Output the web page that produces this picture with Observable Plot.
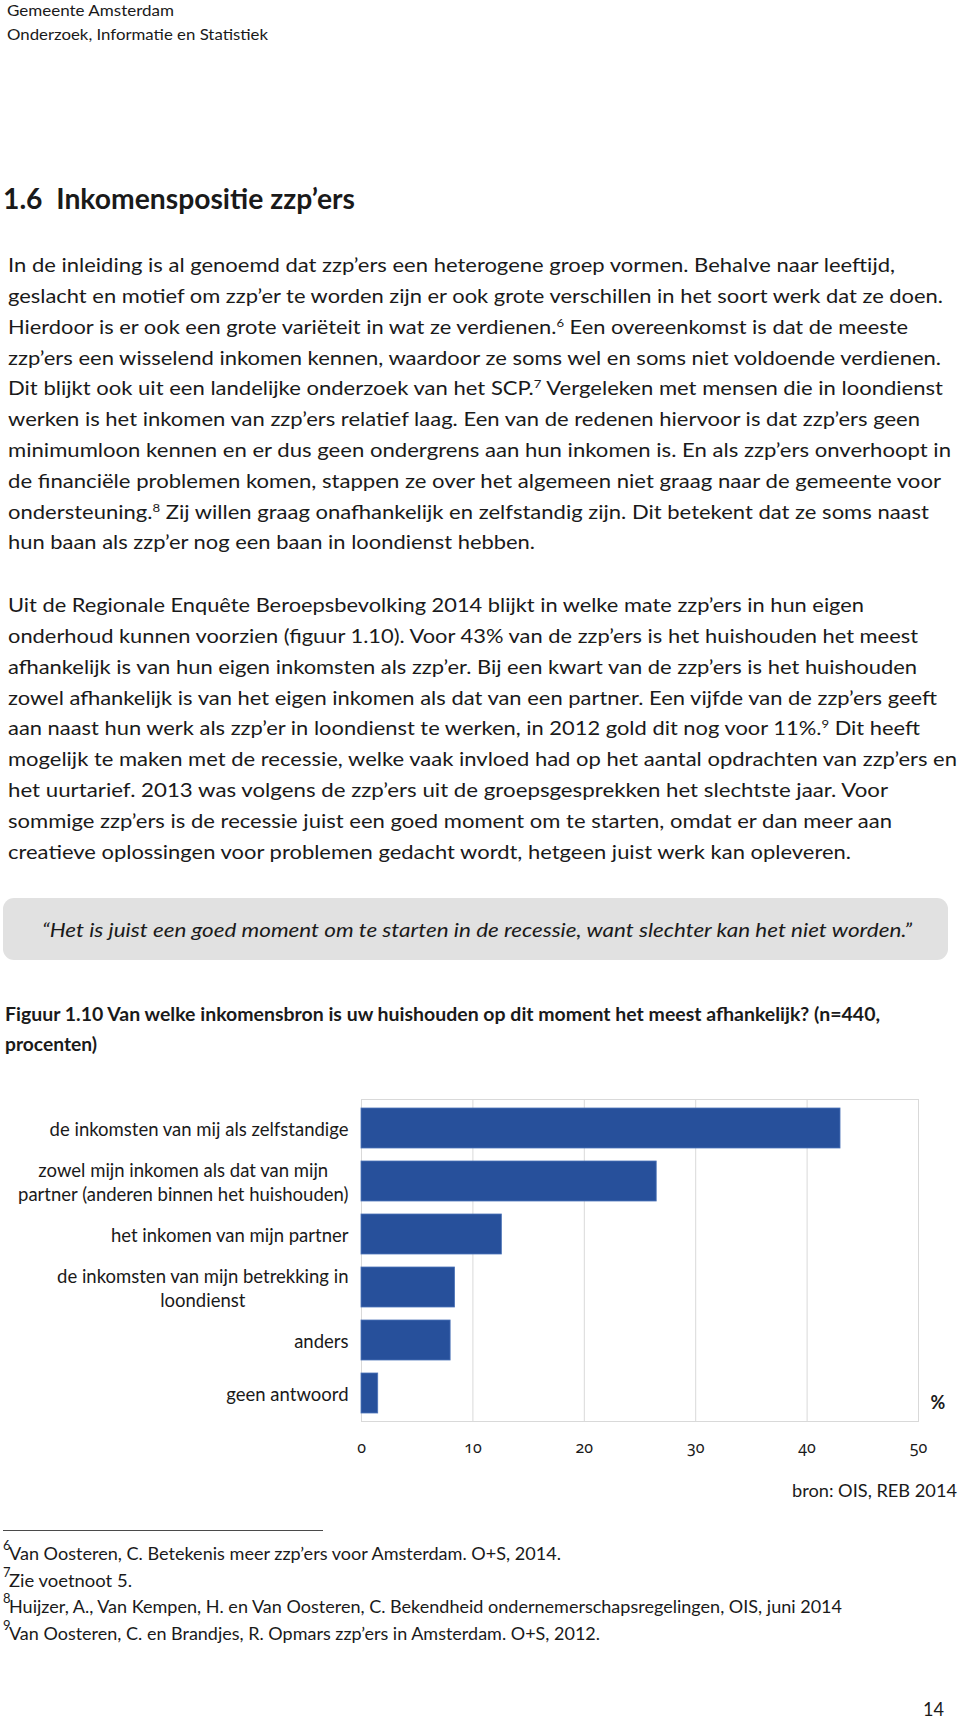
<!DOCTYPE html>
<html>
<head>
<meta charset="utf-8">
<script src="https://cdn.jsdelivr.net/npm/d3@7"></script>
<script src="https://cdn.jsdelivr.net/npm/@observablehq/plot@0.6"></script>
<style>
  html, body { margin: 0; padding: 0; background: #fff; }
  #page { position: relative; width: 960px; height: 1724px; overflow: hidden; font-family: Lato, "Open Sans", sans-serif; color: #1a1a1a; }
  .ln { position: absolute; white-space: nowrap; line-height: 1.2; transform-origin: 0 50%; }
  .ln sup { font-size: 0.6em; line-height: 0; vertical-align: 0.55em; }
  #quotebox { position: absolute; left: 3px; top: 898px; width: 945px; height: 62px; background: #e1e1e1; border-radius: 11px; }
  #rule { position: absolute; left: 3px; top: 1530px; width: 320px; height: 1px; background: #4a4a4a; }
  #chart { position: absolute; left: 0; top: 1080px; }
  #chart g[aria-label="x-axis tick label"] { font-feature-settings: "onum" 1; font-variant-numeric: oldstyle-nums; }
</style>
</head>
<body>
<div id="page">
  <div id="quotebox"></div>
  <div id="rule"></div>
  <div id="chart"></div>
</div>
<script>
// ---------- chart data ----------
const categories = [
  "de inkomsten van mij als zelfstandige",
  "zowel mijn inkomen als dat van mijn partner (anderen binnen het huishouden)",
  "het inkomen van mijn partner",
  "de inkomsten van mijn betrekking in loondienst",
  "anders",
  "geen antwoord"
];
const categoryLabels = [
  "de inkomsten van mij als zelfstandige",
  "zowel mijn inkomen als dat van mijn\npartner (anderen binnen het huishouden)",
  "het inkomen van mijn partner",
  "de inkomsten van mijn betrekking in\nloondienst",
  "anders",
  "geen antwoord"
];
const percentages = [43.0, 26.5, 12.6, 8.4, 8.0, 1.5];
const xTicks = [0, 10, 20, 30, 40, 50];
const unitLabel = "%";

// ---------- page text ----------
const headerLines = ["Gemeente Amsterdam", "Onderzoek, Informatie en Statistiek"];
const sectionTitle = "1.6\u00a0\u00a0Inkomenspositie zzp’ers";
const paragraph1 = [
  "In de inleiding is al genoemd dat zzp’ers een heterogene groep vormen. Behalve naar leeftijd,",
  "geslacht en motief om zzp’er te worden zijn er ook grote verschillen in het soort werk dat ze doen.",
  "Hierdoor is er ook een grote variëteit in wat ze verdienen.<sup>6</sup> Een overeenkomst is dat de meeste",
  "zzp’ers een wisselend inkomen kennen, waardoor ze soms wel en soms niet voldoende verdienen.",
  "Dit blijkt ook uit een landelijke onderzoek van het SCP.<sup>7</sup> Vergeleken met mensen die in loondienst",
  "werken is het inkomen van zzp’ers relatief laag. Een van de redenen hiervoor is dat zzp’ers geen",
  "minimumloon kennen en er dus geen ondergrens aan hun inkomen is. En als zzp’ers onverhoopt in",
  "de financiële problemen komen, stappen ze over het algemeen niet graag naar de gemeente voor",
  "ondersteuning.<sup>8</sup> Zij willen graag onafhankelijk en zelfstandig zijn. Dit betekent dat ze soms naast",
  "hun baan als zzp’er nog een baan in loondienst hebben."
];
const paragraph2 = [
  "Uit de Regionale Enquête Beroepsbevolking 2014 blijkt in welke mate zzp’ers in hun eigen",
  "onderhoud kunnen voorzien (figuur 1.10). Voor 43% van de zzp’ers is het huishouden het meest",
  "afhankelijk is van hun eigen inkomsten als zzp’er. Bij een kwart van de zzp’ers is het huishouden",
  "zowel afhankelijk is van het eigen inkomen als dat van een partner. Een vijfde van de zzp’ers geeft",
  "aan naast hun werk als zzp’er in loondienst te werken, in 2012 gold dit nog voor 11%.<sup>9</sup> Dit heeft",
  "mogelijk te maken met de recessie, welke vaak invloed had op het aantal opdrachten van zzp’ers en",
  "het uurtarief. 2013 was volgens de zzp’ers uit de groepsgesprekken het slechtste jaar. Voor",
  "sommige zzp’ers is de recessie juist een goed moment om te starten, omdat er dan meer aan",
  "creatieve oplossingen voor problemen gedacht wordt, hetgeen juist werk kan opleveren."
];
const quoteText = "“Het is juist een goed moment om te starten in de recessie, want slechter kan het niet worden.”";
const figureTitle = ["Figuur 1.10 Van welke inkomensbron is uw huishouden op dit moment het meest afhankelijk? (n=440,", "procenten)"];
const sourceText = "bron: OIS, REB 2014";
const footnoteNumbers = ["6", "7", "8", "9"];
const footnotes = [
  "Van Oosteren, C. Betekenis meer zzp’ers voor Amsterdam. O+S, 2014.",
  "Zie voetnoot 5.",
  "Huijzer, A., Van Kempen, H. en Van Oosteren, C. Bekendheid ondernemerschapsregelingen, OIS, juni 2014",
  "Van Oosteren, C. en Brandjes, R. Opmars zzp’ers in Amsterdam. O+S, 2012."
];
const pageNumber = "14";

// layout helpers (positions only)
const page = document.getElementById("page");
const placed = [];
function place(html, o) {
  const d = document.createElement("div");
  d.className = "ln";
  d.innerHTML = html;
  d.style.fontSize = o.size + "px";
  if (o.weight) d.style.fontWeight = o.weight;
  if (o.italic) d.style.fontStyle = "italic";
  d.style.left = o.left + "px";
  d.style.top = (o.y - 0.64 * o.size) + "px";
  page.appendChild(d);
  placed.push([d, o]);
}
function fitAll() {
  for (const [d, o] of placed) {
    d.style.transform = "none";
    if (o.right == null) continue;
    const w = d.getBoundingClientRect().width;
    const s = (o.right - o.left) / w;
    d.style.transform = `scaleX(${s})`;
  }
}

place(headerLines[0], {left: 7, right: 174, y: 10, size: 16});
place(headerLines[1], {left: 7, right: 268, y: 34, size: 16});
place(sectionTitle, {left: 3, right: 355, y: 200, size: 29, weight: 700});

const p1Right = [895, 943, 908, 941, 943, 920, 951, 941, 929, 535];
paragraph1.forEach((t, i) => place(t, {left: 8, right: p1Right[i], y: 265 + i * 30.8, size: 20}));
const p2Right = [864, 918, 917, 937, 920, 957, 888, 892, 851];
paragraph2.forEach((t, i) => place(t, {left: 8, right: p2Right[i], y: 605 + i * 30.8, size: 20}));

place(quoteText, {left: 42, right: 912, y: 930, size: 20, italic: true});
place(figureTitle[0], {left: 5, right: 880, y: 1015, size: 19, weight: 700});
place(figureTitle[1], {left: 5, right: 97, y: 1045, size: 19, weight: 700});

place(sourceText, {left: 792, right: 957, y: 1492, size: 17});
const fnY = [1555, 1582, 1608, 1635];
const fnRight = [561, 132, 842, 600];
footnotes.forEach((t, i) => {
  place(footnoteNumbers[i], {left: 3, y: fnY[i] - 9, size: 13});
  place(t, {left: 9, right: fnRight[i], y: fnY[i], size: 18});
});
place(pageNumber, {left: 923, right: 944, y: 1710, size: 19});
fitAll();

// ---------- chart ----------
const rows = categories.map((c, i) => ({category: c, value: percentages[i]}));
const labelOf = new Map(categories.map((c, i) => [c, categoryLabels[i]]));

const chart = Plot.plot({
  width: 960,
  height: 390,
  marginTop: 19,
  marginBottom: 49,
  marginLeft: 361,
  marginRight: 42,
  style: {fontFamily: "Lato, sans-serif", color: "#1a1a1a", background: "transparent"},
  x: {domain: [0, 50], label: null},
  y: {domain: categories, paddingInner: 0.25, paddingOuter: 0.13, label: null},
  marks: [
    Plot.gridX(xTicks, {stroke: "#d9d9d9", strokeOpacity: 1}),
    Plot.frame({stroke: "#d9d9d9", strokeOpacity: 1}),
    Plot.barX(rows, {x: "value", y: "category", fill: "#27509b", stroke: "#4d73b8", strokeWidth: 0.8}),
    Plot.axisX({ticks: xTicks, tickSize: 0, tickPadding: 20, fontSize: 16, fontFamily: "'Noto Sans', Lato, sans-serif", label: null}),
    Plot.axisY({tickSize: 0, tickPadding: 13, fontSize: 18.5, tickFormat: d => labelOf.get(d), lineHeight: 1.3, lineWidth: 100, label: null}),
    Plot.text([unitLabel], {text: d => d, frameAnchor: "bottom-right", dx: 12, dy: -13, textAnchor: "start", fontWeight: "bold", fontSize: 18})
  ]
});
document.getElementById("chart").appendChild(chart);

// center lines inside multi-line category labels (as in the original)
chart.querySelectorAll('g[aria-label="y-axis tick label"] text').forEach(t => {
  const spans = t.querySelectorAll("tspan");
  if (spans.length < 2) return;
  const w = Math.max(...Array.from(spans, s => s.getComputedTextLength()));
  t.setAttribute("text-anchor", "middle");
  spans.forEach(s => s.setAttribute("x", -w / 2));
});

if (document.fonts && document.fonts.ready) document.fonts.ready.then(fitAll);
</script>
</body>
</html>
